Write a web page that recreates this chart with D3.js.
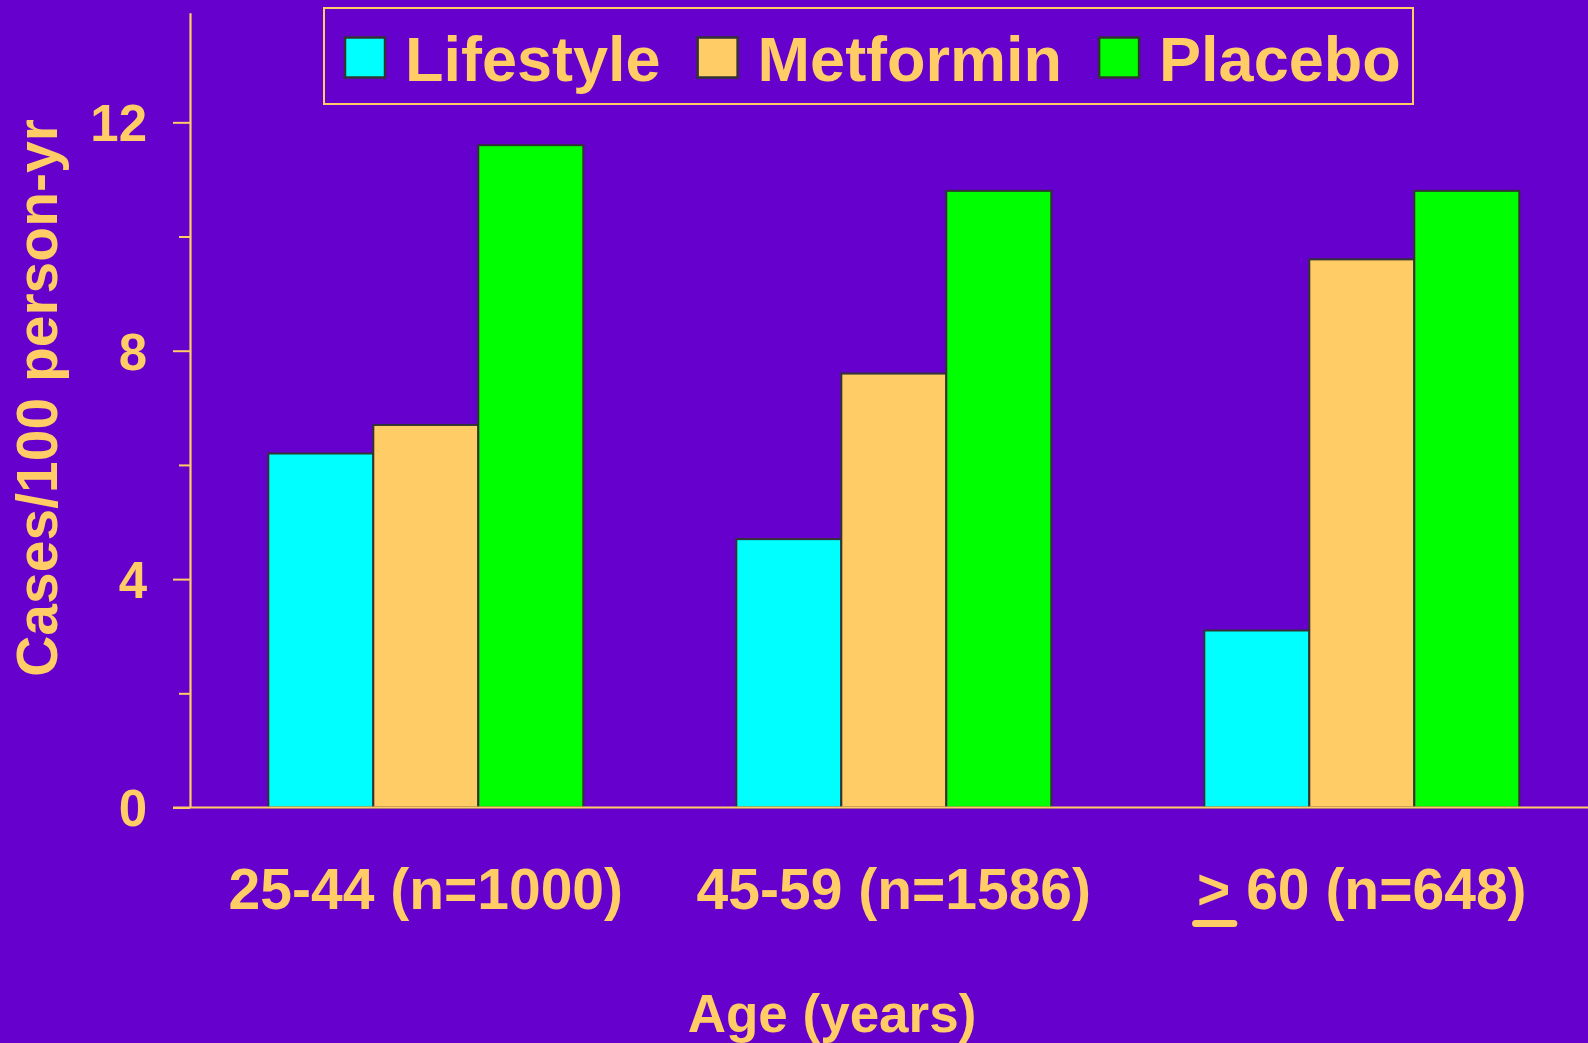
<!DOCTYPE html>
<html>
<head>
<meta charset="utf-8">
<script src="https://cdn.jsdelivr.net/npm/d3@7"></script>
<style>
  html, body { margin: 0; padding: 0; background: #6600CC; overflow: hidden; }
  text { font-family: "Liberation Sans", Arial, sans-serif; font-weight: bold; fill: #FFCC66; }
</style>
</head>
<body>
<div id="container"></div>
<script>
/* DATA */
const groups = ["25-44 (n=1000)", "45-59 (n=1586)", "> 60 (n=648)"];
const series = ["Lifestyle", "Metformin", "Placebo"];
const lifestyle = [6.2, 4.7, 3.1];
const metformin = [6.7, 7.6, 9.6];
const placebo = [11.6, 10.8, 10.8];
const majorTicks = [0, 4, 8, 12];
const minorTicks = [2, 6, 10];

/* CONSTANTS */
const width = 1588;
const height = 1043;
const gold = "#FFCC66";
const colors = ["#00FFFF", "#FFCC66", "#00FF00"];

const values = [lifestyle, metformin, placebo];
const data = groups.map((g, i) => ({
  group: g,
  items: series.map((s, j) => ({ series: s, value: values[j][i] }))
}));

const svg = d3.select("#container")
  .append("svg")
  .attr("width", width)
  .attr("height", height)
  .style("display", "block");

svg.append("rect")
  .attr("width", width)
  .attr("height", height)
  .attr("fill", "#6600CC");

/* SCALES */
const yScale = d3.scaleLinear()
  .domain([0, 13.92])
  .range([807.5, 12.7]);

const x0 = d3.scaleBand()
  .domain(groups)
  .range([191.8, 1595.8])
  .paddingInner(0.327)
  .paddingOuter(0.1635);

const x1 = d3.scaleBand()
  .domain(series)
  .range([0, x0.bandwidth()])
  .padding(0);

const colorScale = d3.scaleOrdinal().domain(series).range(colors);

/* BARS */
const gGroups = svg.selectAll(".grp")
  .data(data)
  .join("g")
  .attr("class", "grp")
  .attr("transform", d => `translate(${x0(d.group)},0)`);

gGroups.selectAll("rect")
  .data(d => d.items)
  .join("rect")
  .attr("x", d => x1(d.series))
  .attr("y", d => yScale(d.value))
  .attr("width", x1.bandwidth())
  .attr("height", d => yScale(0) - yScale(d.value))
  .attr("fill", d => colorScale(d.series))
  .attr("stroke", "#333333")
  .attr("stroke-width", 2);

/* AXES */
const yAxisMajor = d3.axisLeft(yScale)
  .tickValues(majorTicks)
  .tickSize(17)
  .tickSizeOuter(0)
  .tickPadding(26)
  .tickFormat(d3.format("d"));

const gy = svg.append("g")
  .attr("transform", "translate(190,0)")
  .call(yAxisMajor);
gy.select(".domain").attr("stroke", gold).attr("stroke-width", 2.2);
gy.selectAll(".tick line").attr("stroke", gold).attr("stroke-width", 2);
gy.selectAll(".tick text")
  .style("font-size", "51px")
  .attr("dy", "0.36em");

const yAxisMinor = d3.axisLeft(yScale)
  .tickValues(minorTicks)
  .tickSize(11)
  .tickFormat("");
const gyMinor = svg.append("g")
  .attr("transform", "translate(190,0)")
  .call(yAxisMinor);
gyMinor.select(".domain").remove();
gyMinor.selectAll(".tick line").attr("stroke", gold).attr("stroke-width", 2);

// x baseline
svg.append("line")
  .attr("x1", 173)
  .attr("x2", width)
  .attr("y1", yScale(0))
  .attr("y2", yScale(0))
  .attr("stroke", gold)
  .attr("stroke-width", 2.2);

/* X LABELS */
const xLabels = svg.selectAll(".xlabel")
  .data(groups)
  .join("text")
  .attr("class", "xlabel")
  .attr("x", d => x0(d) + x0.bandwidth() / 2)
  .attr("y", 909)
  .attr("text-anchor", "middle")
  .style("font-size", "57px")
  .text(d => d);

// underline the ">" so it reads as "greater or equal"
xLabels.filter(d => d.startsWith(">")).each(function() {
  const ext = this.getExtentOfChar(0);
  svg.append("line")
    .attr("x1", ext.x - 1.5)
    .attr("x2", ext.x + ext.width + 3.5)
    .attr("y1", 923.5)
    .attr("y2", 923.5)
    .attr("stroke", gold)
    .attr("stroke-width", 7)
    .attr("stroke-linecap", "round");
});

/* AXIS TITLES */
svg.append("text")
  .attr("x", 832)
  .attr("y", 1032)
  .attr("text-anchor", "middle")
  .style("font-size", "53px")
  .text("Age (years)");

svg.append("text")
  .attr("transform", "translate(57,398) rotate(-90)")
  .attr("text-anchor", "middle")
  .style("font-size", "57px")
  .text("Cases/100 person-yr");

/* LEGEND */
svg.append("rect")
  .attr("x", 324)
  .attr("y", 8)
  .attr("width", 1089)
  .attr("height", 96)
  .attr("fill", "none")
  .attr("stroke", gold)
  .attr("stroke-width", 2);

let lx = 345;
series.forEach(s => {
  svg.append("rect")
    .attr("x", lx)
    .attr("y", 37.5)
    .attr("width", 40)
    .attr("height", 40)
    .attr("fill", colorScale(s))
    .attr("stroke", "#333333")
    .attr("stroke-width", 2.5);
  const t = svg.append("text")
    .attr("x", lx + 60)
    .attr("y", 81)
    .style("font-size", "63px")
    .text(s);
  lx = lx + 60 + t.node().getComputedTextLength() + 37;
});
</script>
</body>
</html>
